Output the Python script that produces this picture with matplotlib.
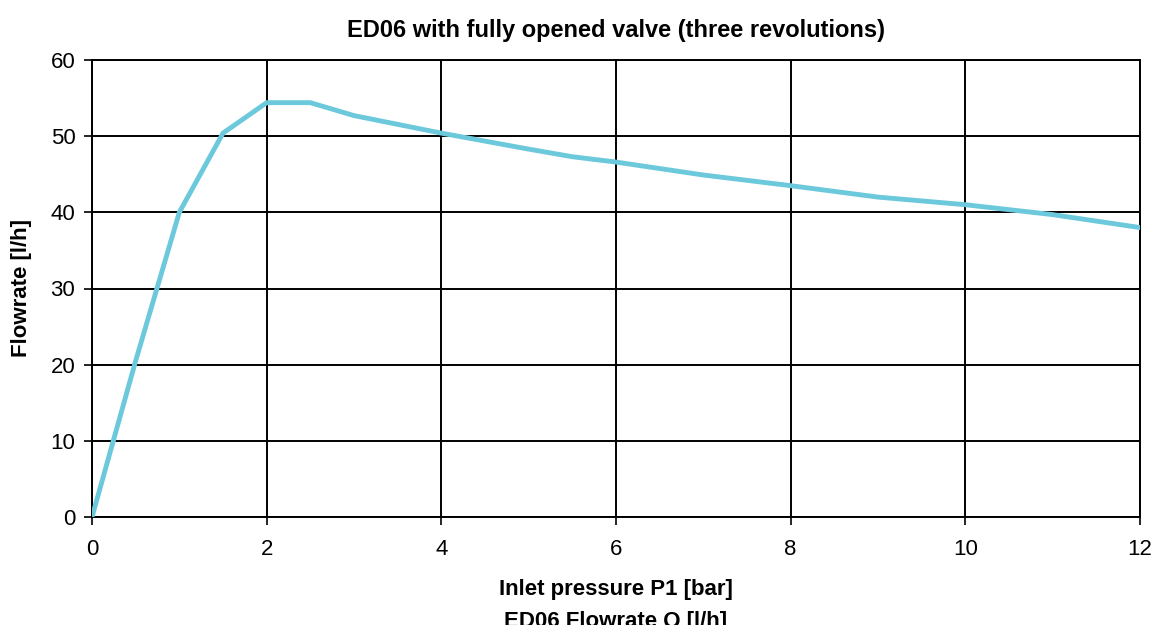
import matplotlib
matplotlib.use("Agg")
import matplotlib.pyplot as plt

pressure = [0, 0.5, 1, 1.5, 2, 2.5, 3, 4, 5, 5.5, 6, 7, 8, 9, 10, 11, 12]
flowrate = [0, 20.5, 40, 50.4, 54.4, 54.4, 52.7, 50.4, 48.3, 47.3, 46.6, 44.9, 43.5, 42.0, 41.0, 39.7, 38.0]
x_ticks = [0, 2, 4, 6, 8, 10, 12]
y_ticks = [0, 10, 20, 30, 40, 50, 60]

plt.rcParams['font.family'] = ['Liberation Sans', 'DejaVu Sans']

W, H = 1156, 625
fig = plt.figure(figsize=(W/100, H/100), dpi=100)
ax = fig.add_axes([92/W, 1-517/H, (1140-92)/W, (517-60)/H])

ax.plot(pressure, flowrate, color='#6cc9dc', linewidth=3.5, solid_joinstyle='round', zorder=3)

ax.set_xlim(0, 12)
ax.set_ylim(0, 60)
ax.set_xticks(x_ticks)
ax.set_yticks(y_ticks)
ax.grid(True, color='black', linewidth=1.4)
ax.set_axisbelow(True)
for s in ax.spines.values():
    s.set_color('black')
    s.set_linewidth(1.4)
ax.tick_params(axis='both', direction='out', length=6, width=1.2, colors='black', labelsize=16)
ax.tick_params(axis='x', pad=10)
ax.tick_params(axis='y', pad=6)

cx = (92+1140)/2/W
fig.text(cx, 1-37/H, 'ED06 with fully opened valve (three revolutions)', ha='center', va='baseline', fontsize=17, fontweight='bold')
fig.text(22/W, 1-288/H, 'Flowrate [l/h]', rotation=90, ha='center', va='center', fontsize=16, fontweight='bold')

fig.text(cx, 1-595/H, 'Inlet pressure P1 [bar]', ha='center', va='baseline', fontsize=16, fontweight='bold')
fig.text(cx, 1-627/H, 'ED06 Flowrate Q [l/h]', ha='center', va='baseline', fontsize=16, fontweight='bold')

fig.savefig('out.png', dpi=100, facecolor='white')
